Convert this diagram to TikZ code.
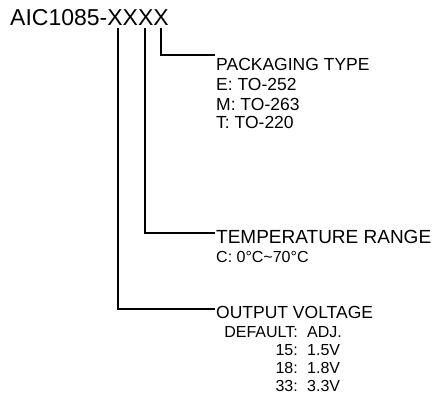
\documentclass[tikz,border=0pt]{standalone}
\usepackage{fontspec}
\setmainfont{Liberation Sans}
\begin{document}
\begin{tikzpicture}[x=1pt,y=-1pt,
  lbl/.style={anchor=base west,inner sep=0pt,font=\fontsize{17.5}{20}\selectfont},
  sub/.style={anchor=base west,inner sep=0pt,font=\fontsize{16}{18}\selectfont},
  subr/.style={anchor=base east,inner sep=0pt,font=\fontsize{16}{18}\selectfont},
  conn/.style={line width=1.2pt,line cap=rect}]
\useasboundingbox (0,0) rectangle (447,413);
\node[anchor=base west,inner sep=0pt,font=\fontsize{23}{26}\selectfont] (title) at (10,25) {AIC1085-XXXX};
% connector tops
\coordinate (c1) at (118,29);
\coordinate (c2) at (145,29);
\coordinate (c3) at (161,29);
% packaging
\node[lbl] (pack) at (216,70) {PACKAGING TYPE};
\node[lbl] (pe) at (216,90.5) {E: TO-252};
\node[lbl] (pm) at (216,110.5) {M: TO-263};
\node[lbl] (pt) at (216,128.5) {T: TO-220};
\coordinate (j3) at (214,55);
% temperature
\node[lbl,font=\fontsize{19}{22}\selectfont] (temp) at (216,243) {TEMPERATURE RANGE};
\node[sub] (tc) at (216,262) {C: 0°C\textasciitilde70°C};
\coordinate (j2) at (214,233);
% output
\node[lbl] (out) at (216,318.5) {OUTPUT VOLTAGE};
\node[subr] (d0) at (298,337) {DEFAULT:};
\node[sub] (v0) at (307,337) {ADJ.};
\node[subr] (d1) at (298,355) {15:};
\node[sub] (v1) at (307,355) {1.5V};
\node[subr] (d2) at (298,373) {18:};
\node[sub] (v2) at (307,373) {1.8V};
\node[subr] (d3) at (298,391) {33:};
\node[sub] (v3) at (307,391) {3.3V};
\coordinate (j1) at (214,309);
\draw[conn] (c3) |- (j3);
\draw[conn] (c2) |- (j2);
\draw[conn] (c1) |- (j1);
\end{tikzpicture}
\end{document}
